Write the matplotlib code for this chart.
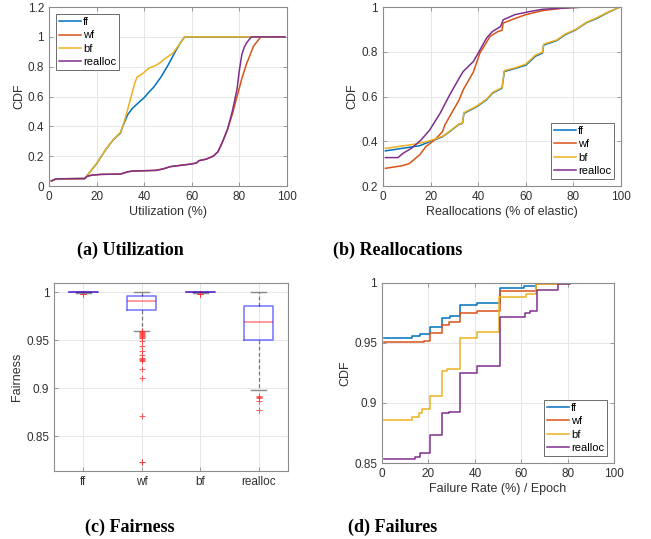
import numpy as np
import matplotlib
matplotlib.use('Agg')
import matplotlib.pyplot as plt
from matplotlib.ticker import FuncFormatter

plt.rcParams['font.family'] = ['Liberation Sans', 'DejaVu Sans']

SERIES = ['ff', 'wf', 'bf', 'realloc']
COLORS = {'ff': '#0072BD', 'wf': '#D95319', 'bf': '#EDB120', 'realloc': '#7E2F8E'}

# =========================
# (a) Utilization CDF
# =========================
ff_a_x = [1, 3, 15, 17, 20, 24, 27, 30, 31, 33, 35, 37, 40, 42, 44, 47, 50, 53, 55, 57, 99]
ff_a_y = [0.034, 0.048, 0.05, 0.09, 0.15, 0.248, 0.31, 0.355, 0.40, 0.477, 0.52, 0.55, 0.593, 0.63, 0.663, 0.73, 0.81, 0.90, 0.955, 1.0, 1.0]
bf_a_x = [1, 3, 15, 17, 20, 24, 27, 30, 31, 33, 36, 37, 39, 42, 45, 47, 48, 52, 55, 57, 99]
bf_a_y = [0.034, 0.048, 0.05, 0.09, 0.152, 0.248, 0.31, 0.36, 0.40, 0.51, 0.69, 0.73, 0.75, 0.79, 0.81, 0.83, 0.846, 0.89, 0.955, 1.0, 1.0]
wf_a_x = [1, 3, 15, 16, 18, 22, 30, 33, 35, 45, 48, 51, 56, 60, 62, 63, 66, 69, 71, 73, 75, 77, 79, 81, 83, 85, 86, 87.5, 89, 99]
wf_a_y = [0.034, 0.048, 0.05, 0.065, 0.073, 0.078, 0.08, 0.095, 0.10, 0.105, 0.115, 0.13, 0.14, 0.148, 0.155, 0.17, 0.18, 0.20, 0.23, 0.30, 0.38, 0.48, 0.60, 0.72, 0.82, 0.90, 0.94, 0.97, 1.0, 1.0]
re_a_x = [1, 3, 15, 16, 18, 22, 30, 33, 35, 45, 48, 51, 56, 60, 62, 63, 66, 69, 71, 73, 75, 77, 79, 80, 81, 82, 83, 85, 99]
re_a_y = [0.034, 0.048, 0.05, 0.065, 0.073, 0.078, 0.08, 0.095, 0.10, 0.105, 0.115, 0.13, 0.14, 0.148, 0.155, 0.17, 0.18, 0.20, 0.23, 0.30, 0.38, 0.50, 0.65, 0.78, 0.88, 0.93, 0.96, 1.0, 1.0]

# =========================
# (b) Reallocations CDF
# =========================
ff_b_x = [1, 15.4, 19.6, 25, 28, 32, 33.4, 34, 39, 43.5, 46, 50, 51, 56, 60, 64, 67, 67.5, 73, 76.5, 81, 85.5, 90, 94, 99.5]
ff_b_y = [0.357, 0.38, 0.398, 0.42, 0.443, 0.476, 0.48, 0.525, 0.552, 0.585, 0.615, 0.637, 0.712, 0.727, 0.74, 0.78, 0.794, 0.83, 0.85, 0.876, 0.898, 0.93, 0.95, 0.973, 1.0]
bf_b_x = [1, 14, 19.6, 25, 28, 32, 33.4, 34, 39, 43.5, 46, 50, 51, 56, 60, 64, 67, 67.5, 73, 76.5, 81, 85.5, 90, 94, 99.5]
bf_b_y = [0.368, 0.388, 0.402, 0.422, 0.445, 0.478, 0.482, 0.528, 0.555, 0.588, 0.618, 0.64, 0.716, 0.73, 0.745, 0.785, 0.798, 0.834, 0.853, 0.879, 0.9, 0.932, 0.953, 0.975, 1.0]
wf_b_x = [1, 7.7, 11, 15.4, 18, 21.7, 25, 26, 32, 33.7, 38, 40.7, 45, 48.4, 50, 50.5, 54.7, 60, 67, 76, 84, 99.5]
wf_b_y = [0.279, 0.29, 0.30, 0.339, 0.376, 0.406, 0.443, 0.473, 0.585, 0.63, 0.71, 0.794, 0.869, 0.891, 0.896, 0.928, 0.946, 0.966, 0.984, 0.996, 1.0, 1.0]
re_b_x = [1, 6.3, 8.4, 12, 16, 19.6, 24, 28, 32, 33.7, 38, 40, 43.5, 46, 49.4, 50.5, 55.4, 61.7, 67, 78.5, 85, 99.5]
re_b_y = [0.327, 0.327, 0.346, 0.369, 0.406, 0.45, 0.525, 0.607, 0.682, 0.712, 0.757, 0.794, 0.861, 0.891, 0.913, 0.943, 0.966, 0.98, 0.99, 0.997, 1.0, 1.0]

# =========================
# (c) Fairness box plot stats
# =========================
box_med = [1.0, 0.9903, 1.0, 0.9685]
box_q1 = [1.0, 0.981, 1.0, 0.9498]
box_q3 = [1.0, 0.9955, 1.0, 0.985]
box_lo = [0.9992, 0.9598, 0.9992, 0.898]
box_hi = [1.0, 1.0, 1.0, 1.0]
box_fliers = [
    [0.9975, 0.9978, 0.998],
    [0.959, 0.958, 0.957, 0.956, 0.955, 0.954, 0.953, 0.952, 0.949, 0.944, 0.939, 0.934,
     0.931, 0.930, 0.929, 0.928, 0.920, 0.910, 0.871, 0.8225, 0.823],
    [0.9975, 0.9978, 0.998],
    [0.892, 0.891, 0.890, 0.887, 0.877],
]

# =========================
# (d) Failures CDF (step curves)
# =========================
ff_d_x = [1, 13, 16.5, 20.5, 26, 29.4, 33.6, 41, 50.8, 61, 66.5, 99]
ff_d_y = [0.9542, 0.956, 0.9575, 0.963, 0.971, 0.9722, 0.9816, 0.983, 0.996, 0.9975, 1.0, 1.0]
wf_d_x = [1, 18, 20.5, 26, 28.7, 33.6, 41, 50.8, 66.5, 76, 99]
wf_d_y = [0.9505, 0.952, 0.958, 0.9654, 0.9673, 0.975, 0.977, 0.993, 0.999, 1.0, 1.0]
bf_d_x = [1, 13, 15.8, 17.2, 20.5, 26, 28, 33.6, 41, 50.6, 62, 66.5, 81, 99]
bf_d_y = [0.8858, 0.8885, 0.8913, 0.8947, 0.9059, 0.9263, 0.9282, 0.9542, 0.9595, 0.9886, 0.9905, 0.9989, 1.0, 1.0]
re_d_x = [1, 14.3, 16.5, 20.5, 26, 28.7, 33.6, 41, 50.8, 61.7, 64, 66.8, 76, 81, 99]
re_d_y = [0.8536, 0.855, 0.8584, 0.8737, 0.8919, 0.8927, 0.9249, 0.9305, 0.9715, 0.9751, 0.9765, 0.9941, 0.9989, 1.0, 1.0]

AX_COL = '#8c8c8c'
TXT_COL = '#303030'


def style(ax):
    for s in ax.spines.values():
        s.set_color(AX_COL)
        s.set_linewidth(0.8)
    ax.tick_params(direction='in', length=3, width=0.6, colors=AX_COL,
                   labelcolor=TXT_COL, labelsize=8.5, top=True, right=True,
                   labeltop=False, labelright=False)
    ax.grid(True, color='#e6e6e6', linewidth=0.7)
    ax.set_axisbelow(True)


def legend(ax, loc):
    lg = ax.legend(loc=loc, fontsize=8, fancybox=False, framealpha=1,
                   edgecolor='#555555', handlelength=2.0, handletextpad=0.15,
                   borderpad=0.3, labelspacing=0.3, borderaxespad=0.6)
    lg.get_frame().set_linewidth(0.6)


fmt = FuncFormatter(lambda v, p: f'{v:g}')

fig = plt.figure(figsize=(6.51, 5.39), dpi=100)

# (a)
ax = fig.add_axes([0.0753, 0.6549, 0.3656, 0.332])
for name, x, y in [('ff', ff_a_x, ff_a_y), ('wf', wf_a_x, wf_a_y),
                   ('bf', bf_a_x, bf_a_y), ('realloc', re_a_x, re_a_y)]:
    ax.plot(x, y, color=COLORS[name], lw=1.1, label=name)
ax.set_xlim(0, 100)
ax.set_ylim(0, 1.2)
ax.set_yticks(np.arange(0, 1.21, 0.2))
ax.yaxis.set_major_formatter(fmt)
ax.set_xlabel('Utilization (%)', fontsize=9, color=TXT_COL, labelpad=2)
ax.set_ylabel('CDF', fontsize=9, color=TXT_COL, labelpad=2)
style(ax)
legend(ax, 'upper left')

# (b)
ax = fig.add_axes([0.5883, 0.6549, 0.3656, 0.332])
for name, x, y in [('ff', ff_b_x, ff_b_y), ('wf', wf_b_x, wf_b_y),
                   ('bf', bf_b_x, bf_b_y), ('realloc', re_b_x, re_b_y)]:
    ax.plot(x, y, color=COLORS[name], lw=1.1, label=name)
ax.set_xlim(0, 100)
ax.set_ylim(0.2, 1)
ax.set_yticks(np.arange(0.2, 1.01, 0.2))
ax.yaxis.set_major_formatter(fmt)
ax.set_xlabel('Reallocations (% of elastic)', fontsize=9, color=TXT_COL, labelpad=2)
ax.set_ylabel('CDF', fontsize=9, color=TXT_COL, labelpad=2)
style(ax)
legend(ax, 'lower right')

# (c)
ax = fig.add_axes([0.083, 0.1262, 0.3594, 0.3488])
stats = []
for i, name in enumerate(SERIES):
    stats.append(dict(label=name, med=box_med[i], q1=box_q1[i], q3=box_q3[i],
                      whislo=box_lo[i], whishi=box_hi[i], fliers=box_fliers[i]))
# median under the box so collapsed boxes (ff, bf) blend to purple
ax.bxp(stats, positions=[1, 2, 3, 4], widths=0.5, showfliers=True,
       boxprops=dict(color=(0, 0, 1, 0.55), lw=1.1, zorder=2.6),
       medianprops=dict(color=(1, 0, 0, 0.5), lw=1.1, zorder=2.4),
       whiskerprops=dict(color='#777777', lw=0.9, linestyle=(0, (3, 2))),
       capprops=dict(color='#888888', lw=1.0),
       capwidths=0.25,
       flierprops=dict(marker='+', markeredgecolor='#ff3030', markersize=4,
                       markeredgewidth=0.7, alpha=0.8))
ax.set_xlim(0.5, 4.5)
ax.set_ylim(0.8136, 1.0094)
ax.set_yticks([0.85, 0.9, 0.95, 1.0])
ax.yaxis.set_major_formatter(fmt)
ax.set_ylabel('Fairness', fontsize=9, color=TXT_COL, labelpad=2)
style(ax)
ax.tick_params(top=False, right=False)

# (d)
ax = fig.add_axes([0.5868, 0.141, 0.3564, 0.334])
for name, x, y in [('ff', ff_d_x, ff_d_y), ('wf', wf_d_x, wf_d_y),
                   ('bf', bf_d_x, bf_d_y), ('realloc', re_d_x, re_d_y)]:
    ax.plot(x, y, color=COLORS[name], lw=1.1, label=name, drawstyle='steps-post')
ax.set_xlim(0, 100)
ax.set_ylim(0.85, 1)
ax.set_yticks([0.85, 0.9, 0.95, 1.0])
ax.yaxis.set_major_formatter(fmt)
ax.set_xlabel('Failure Rate (%) / Epoch', fontsize=9, color=TXT_COL, labelpad=2)
ax.set_ylabel('CDF', fontsize=9, color=TXT_COL, labelpad=2)
style(ax)
legend(ax, 'lower right')

# captions
cap = dict(fontsize=13, fontweight='bold', family='Liberation Serif',
           ha='center', va='center', color='black')
fig.text(130 / 651, 1 - 250 / 539, '(a) Utilization', **cap)
fig.text(398 / 651, 1 - 250 / 539, '(b) Reallocations', **cap)
fig.text(130 / 651, 1 - 527 / 539, '(c) Fairness', **cap)
fig.text(393 / 651, 1 - 527 / 539, '(d) Failures', **cap)

fig.savefig('out.png', dpi=100)
